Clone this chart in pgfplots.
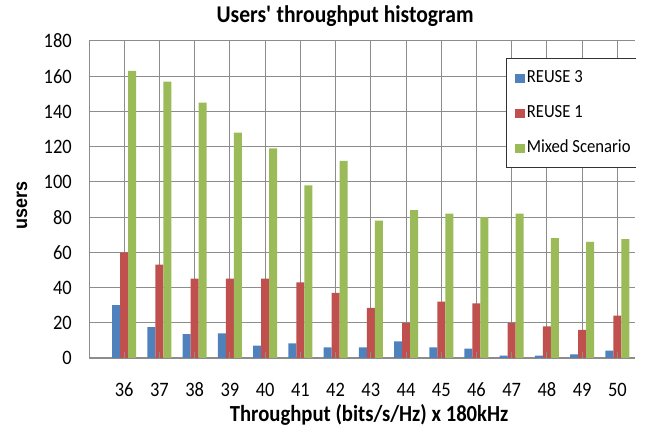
\documentclass[border=0pt]{standalone}
\usepackage{fontspec}
\setmainfont{Carlito}[FakeStretch=0.9]
\newfontfamily\arialfont{Liberation Sans}[FakeStretch=0.92]
\usepackage{pgfplots}
\pgfplotsset{compat=1.18}
\definecolor{cBlue}{RGB}{79,129,189}
\definecolor{cRed}{RGB}{192,80,77}
\definecolor{cGreen}{RGB}{155,187,89}
\definecolor{cGrid}{RGB}{140,140,140}
\pgfplotsset{sqleg/.style={legend image code/.code={\fill[##1,draw=none] (0bp,-4.5bp) rectangle (10bp,4.5bp);}}}
\begin{document}
\begin{tikzpicture}
\path[use as bounding box] (0,0) rectangle (647bp,426bp);
\begin{axis}[
  at={(89bp,68bp)}, anchor=south west,
  scale only axis, width=546bp, height=317bp,
  ybar=0pt, bar width=0.227,
  xmin=35, xmax=50.5, ymin=0, ymax=180,
  xtick={36,...,50}, ytick={0,20,...,180},
  /pgf/number format/assume math mode=true,
  grid=major,
  major grid style={draw=cGrid, line width=1bp},
  axis x line=bottom, axis y line=left,
  axis line style={-, draw=cGrid, line width=1bp},
  tick align=inside, major tick length=6bp,
  xtick style={draw=cGrid, line width=1bp},
  ytick style={draw=none},
  tick label style={font=\fontsize{20.5bp}{24bp}\selectfont},
  xticklabel style={anchor=base, yshift=-39bp, inner sep=0pt},
  yticklabel style={anchor=east, inner sep=0pt, xshift=-17bp},
  title={Users\textquotesingle\ throughput histogram},
  title style={at={(axis description cs:0.469,1)}, anchor=base, yshift=13bp, inner sep=0pt, font=\fontsize{24bp}{28bp}\selectfont\bfseries},
  xlabel={Throughput (bits/s/Hz) x 180kHz},
  xlabel style={at={(axis description cs:0.513,0)}, anchor=base, yshift=-63.7bp, inner sep=0pt, font=\fontsize{23bp}{27bp}\selectfont\bfseries},
  ylabel={users},
  ylabel style={at={(axis description cs:0,0.48)}, anchor=center, yshift=67bp, inner sep=0pt, font=\fontsize{19.5bp}{23bp}\arialfont\bfseries},
  legend style={at={(axis description cs:0.7646,0.945)}, anchor=north west,
    draw=black!80, line width=0.8bp, fill=white,
    inner xsep=8bp, inner ysep=10bp, row sep=16bp,
    font=\fontsize{18.5bp}{22bp}\selectfont,
    nodes={inner sep=2bp, text height=12bp, text depth=3bp},
    cells={anchor=west}},
]
\addplot[fill=cBlue, draw=none, sqleg] coordinates {
(36,30) (37,17.5) (38,13.5) (39,14) (40,7) (41,8.3) (42,6) (43,6) (44,9.4) (45,6) (46,5.3) (47,1.3) (48,1.3) (49,2) (50,4.2)};
\addlegendentry{\makebox[125bp][l]{REUSE 3}}
\addplot[fill=cRed, draw=none, sqleg] coordinates {
(36,60) (37,53) (38,45) (39,45) (40,45) (41,43) (42,37) (43,28.5) (44,20) (45,32) (46,31) (47,20) (48,18) (49,16) (50,24)};
\addlegendentry{\makebox[125bp][l]{REUSE 1}}
\addplot[fill=cGreen, draw=none, sqleg] coordinates {
(36,163) (37,157) (38,145) (39,128) (40,119) (41,98) (42,112) (43,78) (44,84) (45,82) (46,80) (47,82) (48,68) (49,66) (50,67.5)};
\addlegendentry{\makebox[125bp][l]{Mixed Scenario}}
\end{axis}
\begin{axis}[
  at={(89bp,68bp)}, anchor=south west,
  scale only axis, width=546bp, height=317bp,
  xmin=35, xmax=50.5, ymin=0, ymax=180,
  xtick={36,...,50}, xticklabels={}, ytick=\empty,
  axis x line=bottom, axis y line=none,
  axis line style={-, draw=cGrid, line width=1bp},
  tick align=inside, major tick length=6bp,
  xtick style={draw=cGrid, line width=1bp},
]
\end{axis}
\fill[white] (635.5bp,0bp) rectangle (648bp,426bp);
\end{tikzpicture}
\end{document}
